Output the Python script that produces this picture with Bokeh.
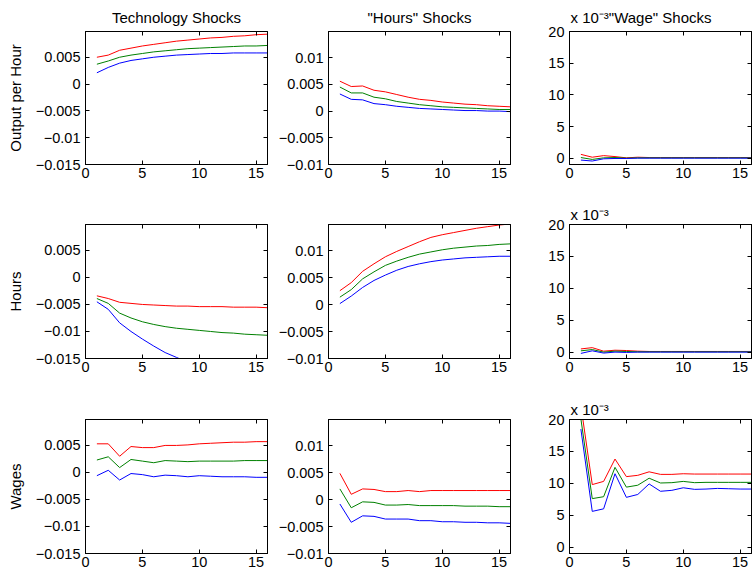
from bokeh.plotting import figure
from bokeh.layouts import row, column
from bokeh.models import FixedTicker, LinearAxis, Range1d, Title
from bokeh.embed import file_html
from bokeh.resources import INLINE

# ---------------- data ----------------
periods = list(range(1, 17))

shock_titles = ["Technology Shocks", '"Hours" Shocks', '"Wage" Shocks']
variable_labels = ["Output per Hour", "Hours", "Wages"]
scale_note = "x 10\u207b\u00b3"

# Technology shocks -> Output per Hour
tech_oph_upper = [0.0050, 0.0054, 0.0063, 0.0067, 0.0071, 0.0074, 0.0077, 0.0080,
                  0.0082, 0.0084, 0.0086, 0.0087, 0.0089, 0.0090, 0.0092, 0.0093]
tech_oph_mid = [0.0037, 0.0043, 0.0050, 0.0054, 0.0057, 0.0060, 0.0062, 0.0064,
                0.0066, 0.0067, 0.0068, 0.0069, 0.0070, 0.0071, 0.0071, 0.0072]
tech_oph_lower = [0.0021, 0.0031, 0.0039, 0.0044, 0.0047, 0.0050, 0.0052, 0.0054,
                  0.0055, 0.0056, 0.0057, 0.0057, 0.0058, 0.0058, 0.0058, 0.0058]
# Technology shocks -> Hours
tech_hours_upper = [-0.0034, -0.0039, -0.0046, -0.0048, -0.0050, -0.0051, -0.0052, -0.0053,
                    -0.0053, -0.0054, -0.0054, -0.0054, -0.0055, -0.0055, -0.0055, -0.0056]
tech_hours_mid = [-0.0039, -0.0048, -0.0066, -0.0075, -0.0082, -0.0087, -0.0091, -0.0094,
                  -0.0096, -0.0098, -0.0100, -0.0102, -0.0103, -0.0105, -0.0106, -0.0107]
tech_hours_lower = [-0.0045, -0.0059, -0.0084, -0.0100, -0.0114, -0.0127, -0.0139, -0.0148,
                    -0.0157, -0.0165, -0.0172, -0.0178, -0.0183, -0.0187, -0.0191, -0.0194]
# Technology shocks -> Wages
tech_wages_upper = [0.0053, 0.0053, 0.0030, 0.0048, 0.0046, 0.0046, 0.0050, 0.0050,
                    0.0051, 0.0053, 0.0054, 0.0055, 0.0056, 0.0056, 0.0057, 0.0057]
tech_wages_mid = [0.0023, 0.0029, 0.0009, 0.0024, 0.0021, 0.0018, 0.0022, 0.0021,
                  0.0020, 0.0021, 0.0021, 0.0021, 0.0021, 0.0022, 0.0022, 0.0022]
tech_wages_lower = [-0.0006, 0.0004, -0.0014, -0.0002, -0.0004, -0.0008, -0.0005, -0.0006,
                    -0.0008, -0.0006, -0.0007, -0.0008, -0.0008, -0.0008, -0.0009, -0.0009]

# "Hours" shocks -> Output per Hour
hrs_oph_upper = [0.0056, 0.0046, 0.0047, 0.0039, 0.0036, 0.0031, 0.0026, 0.0022,
                 0.0020, 0.0017, 0.0015, 0.0013, 0.0012, 0.0010, 0.0009, 0.0008]
hrs_oph_mid = [0.0045, 0.0034, 0.0034, 0.0026, 0.0023, 0.0018, 0.0015, 0.0012,
               0.0010, 0.0008, 0.0007, 0.0006, 0.0005, 0.0004, 0.0003, 0.0003]
hrs_oph_lower = [0.0032, 0.0022, 0.0021, 0.0014, 0.0012, 0.0009, 0.0007, 0.0005,
                 0.0004, 0.0003, 0.0002, 0.0001, 0.0001, 0.0000, 0.0000, -0.0001]
# "Hours" shocks -> Hours
hrs_hours_upper = [0.0026, 0.0041, 0.0062, 0.0076, 0.0089, 0.0099, 0.0108, 0.0117,
                   0.0125, 0.0130, 0.0134, 0.0138, 0.0142, 0.0145, 0.0148, 0.0150]
hrs_hours_mid = [0.0014, 0.0028, 0.0048, 0.0061, 0.0073, 0.0081, 0.0088, 0.0094,
                 0.0098, 0.0102, 0.0105, 0.0107, 0.0109, 0.0110, 0.0112, 0.0113]
hrs_hours_lower = [0.0002, 0.0016, 0.0032, 0.0045, 0.0055, 0.0064, 0.0071, 0.0076,
                   0.0080, 0.0083, 0.0085, 0.0087, 0.0088, 0.0089, 0.0090, 0.0090]
# "Hours" shocks -> Wages
hrs_wages_upper = [0.0049, 0.0010, 0.0020, 0.0019, 0.0015, 0.0015, 0.0017, 0.0015,
                   0.0017, 0.0017, 0.0017, 0.0017, 0.0017, 0.0017, 0.0017, 0.0017]
hrs_wages_mid = [0.0020, -0.0015, -0.0004, -0.0005, -0.0010, -0.0010, -0.0009, -0.0011,
                 -0.0011, -0.0011, -0.0011, -0.0012, -0.0012, -0.0012, -0.0013, -0.0013]
hrs_wages_lower = [-0.0008, -0.0042, -0.0030, -0.0031, -0.0036, -0.0036, -0.0036, -0.0039,
                   -0.0039, -0.0041, -0.0041, -0.0042, -0.0042, -0.0043, -0.0043, -0.0044]

# "Wage" shocks (values in units of 10^-3)
wage_oph_upper = [0.6, 0.15, 0.4, 0.25, 0.05, 0.15, 0.1, 0.1,
                  0.1, 0.1, 0.1, 0.1, 0.1, 0.1, 0.1, 0.1]
wage_oph_mid = [0.1, -0.2, 0.05, 0.1, 0.0, 0.05, 0.05, 0.05,
                0.05, 0.05, 0.05, 0.05, 0.05, 0.05, 0.05, 0.05]
wage_oph_lower = [-0.3, -0.45, -0.1, -0.05, -0.05, 0.0, 0.0, 0.0,
                  0.0, 0.0, 0.0, 0.0, 0.0, 0.0, 0.0, 0.0]
wage_hours_upper = [0.5, 0.7, 0.15, 0.3, 0.25, 0.15, 0.1, 0.1,
                    0.1, 0.1, 0.1, 0.1, 0.1, 0.1, 0.1, 0.1]
wage_hours_mid = [0.2, 0.4, 0.0, 0.15, 0.1, 0.05, 0.05, 0.05,
                  0.05, 0.05, 0.05, 0.05, 0.05, 0.05, 0.05, 0.05]
wage_hours_lower = [-0.2, 0.2, -0.15, 0.0, -0.05, 0.0, 0.0, 0.0,
                    0.0, 0.0, 0.0, 0.0, 0.0, 0.0, 0.0, 0.0]
wage_wages_upper = [22.2, 9.8, 10.3, 13.8, 11.05, 11.25, 11.8, 11.4,
                    11.4, 11.5, 11.45, 11.45, 11.45, 11.45, 11.45, 11.45]
wage_wages_mid = [20.1, 7.6, 7.9, 12.5, 9.4, 9.7, 10.8, 10.05,
                  10.1, 10.3, 10.1, 10.15, 10.15, 10.15, 10.15, 10.15]
wage_wages_lower = [18.5, 5.6, 6.0, 11.5, 7.8, 8.25, 9.9, 8.75,
                    8.9, 9.3, 9.05, 9.1, 9.2, 9.15, 9.1, 9.1]

panels = [
    [(tech_oph_upper, tech_oph_mid, tech_oph_lower),
     (hrs_oph_upper, hrs_oph_mid, hrs_oph_lower),
     (wage_oph_upper, wage_oph_mid, wage_oph_lower)],
    [(tech_hours_upper, tech_hours_mid, tech_hours_lower),
     (hrs_hours_upper, hrs_hours_mid, hrs_hours_lower),
     (wage_hours_upper, wage_hours_mid, wage_hours_lower)],
    [(tech_wages_upper, tech_wages_mid, tech_wages_lower),
     (hrs_wages_upper, hrs_wages_mid, hrs_wages_lower),
     (wage_wages_upper, wage_wages_mid, wage_wages_lower)],
]

x_ticks = [0, 5, 10, 15]
col_y_ticks = [
    [-0.015, -0.01, -0.005, 0, 0.005],
    [-0.01, -0.005, 0, 0.005, 0.01],
    [0, 5, 10, 15, 20],
]
col_y_tick_labels = [
    ["\u22120.015", "\u22120.01", "\u22120.005", "0", "0.005"],
    ["\u22120.01", "\u22120.005", "0", "0.005", "0.01"],
    ["0", "5", "10", "15", "20"],
]
col_y_ranges = [(-0.015, 0.0098), (-0.01, 0.0149), (-1.0, 20.0)]
x_limits = (0, 16)

# ---------------- style / layout ----------------
FONT = "Liberation Sans"
TICK_FS = "14.5px"
LABEL_FS = "15px"
line_colors = ["#ff0000", "#008000", "#0000ff"]

FRAME_W = 182
FRAME_H = [133, 134, 134]
B_LEFT = [85, 52, 51]
B_RIGHT = [8, 8, 1]
B_TOP = [31, 33, 34]
B_BOTTOM = [27, 27, 22]


def style_axis(ax, ticker, show_labels, overrides=None):
    ax.ticker = ticker
    ax.axis_line_color = "black"
    ax.axis_line_width = 1
    ax.major_tick_line_color = "black"
    ax.major_tick_in = 4
    ax.major_tick_out = 0
    ax.minor_tick_line_color = None
    ax.major_label_text_font = FONT
    if show_labels:
        ax.major_label_text_font_size = TICK_FS
        ax.major_label_text_color = "black"
    else:
        ax.major_label_text_color = None
        ax.major_label_standoff = 0
    if overrides:
        ax.major_label_overrides = overrides


def make_panel(r, c):
    fig = figure(frame_width=FRAME_W, frame_height=FRAME_H[r],
                 x_range=Range1d(*x_limits), y_range=Range1d(*col_y_ranges[c]),
                 min_border_left=B_LEFT[c], min_border_right=B_RIGHT[c],
                 min_border_top=B_TOP[r], min_border_bottom=B_BOTTOM[r],
                 output_backend="svg", toolbar_location=None, tools="")
    fig.background_fill_color = "white"
    fig.border_fill_color = "white"
    fig.outline_line_color = "black"
    fig.outline_line_width = 1
    fig.xgrid.visible = False
    fig.ygrid.visible = False

    yt = FixedTicker(ticks=col_y_ticks[c], minor_ticks=[])
    xt = FixedTicker(ticks=x_ticks, minor_ticks=[])
    y_over = dict(zip(col_y_ticks[c], col_y_tick_labels[c]))

    style_axis(fig.xaxis[0], xt, True)
    fig.xaxis[0].major_label_standoff = 3
    style_axis(fig.yaxis[0], yt, True, y_over)
    fig.yaxis[0].major_label_standoff = 5

    right_ax = LinearAxis()
    style_axis(right_ax, FixedTicker(ticks=col_y_ticks[c], minor_ticks=[]), False)
    fig.add_layout(right_ax, "right")

    # panel title (top row) / scale note (right column)
    if r == 0 and c < 2:
        ttl = Title(text=shock_titles[c], align="center", standoff=12)
    elif r == 0 and c == 2:
        ttl = Title(text=scale_note + shock_titles[c], align="left", offset=1, standoff=12)
    elif c == 2:
        ttl = Title(text=scale_note, align="left", offset=1, standoff=4)
    else:
        ttl = Title(text="")
    ttl.text_font = FONT
    ttl.text_font_size = LABEL_FS
    ttl.text_font_style = "normal"
    ttl.text_color = "black"
    fig.title = ttl

    top_ax = LinearAxis()
    style_axis(top_ax, FixedTicker(ticks=x_ticks, minor_ticks=[]), False)
    fig.above = [top_ax] + [obj for obj in fig.above if obj is not top_ax]

    if c == 0:
        fig.yaxis[0].axis_label = variable_labels[r]
        fig.yaxis[0].axis_label_text_font = FONT
        fig.yaxis[0].axis_label_text_font_size = LABEL_FS
        fig.yaxis[0].axis_label_text_font_style = "normal"
        fig.yaxis[0].axis_label_text_color = "black"
        fig.yaxis[0].axis_label_standoff = 9

    upper, mid, lower = panels[r][c]
    for ys, col in zip((upper, mid, lower), line_colors):
        fig.line(periods, ys, line_color=col, line_width=1)
    return fig


rows = []
for r in range(3):
    rows.append(row([make_panel(r, c) for c in range(3)], spacing=0))
p = column(rows, spacing=0)

open("out.html", "w").write(file_html(p, INLINE))
